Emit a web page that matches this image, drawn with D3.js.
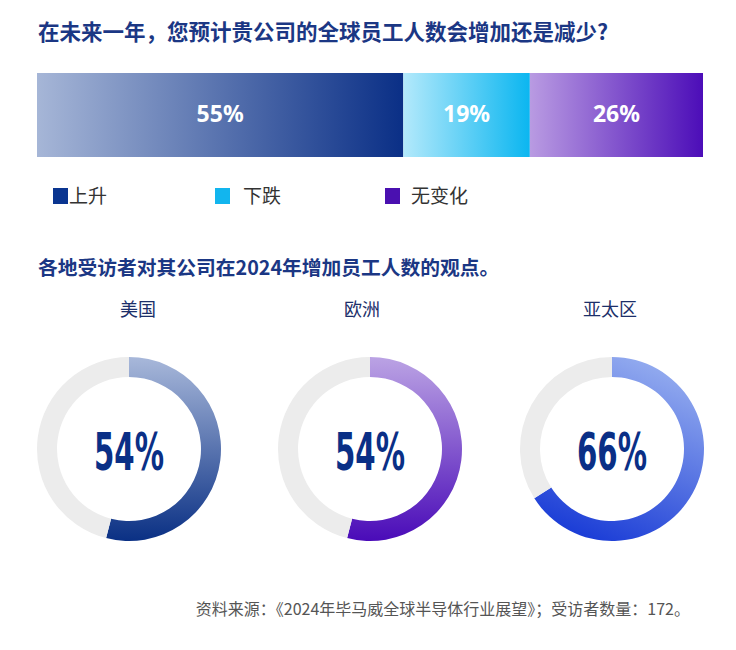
<!DOCTYPE html>
<html><head><meta charset="utf-8">
<script src="https://cdn.jsdelivr.net/npm/d3@7/dist/d3.min.js"></script>
<style>body{margin:0;background:#fff}svg{display:block}</style>
</head><body>
<script>
const title = "在未来一年，您预计贵公司的全球员工人数会增加还是减少?";
const subtitle = "各地受访者对其公司在2024年增加员工人数的观点。";
const source = "资料来源：《2024年毕马威全球半导体行业展望》；受访者数量：172。";
const barCategories = ["上升", "下跌", "无变化"];
const barValues = [55, 19, 26];
const regions = ["美国", "欧洲", "亚太区"];
const regionValues = [54, 54, 66];

const W = 736, H = 650;
const cjk = "'Noto Sans CJK SC','Noto Sans',sans-serif";
const svg = d3.select("body").append("svg").attr("width", W).attr("height", H);
const defs = svg.append("defs");

const barGrad = [["#a6b6d7", "#0a2f86"], ["#b3e9fb", "#0bb6f0"], ["#b99be2", "#4c0db8"]];
const legendColors = ["#0a3590", "#12b5ee", "#4a10b0"];
barGrad.forEach((g, i) => {
  const lg = defs.append("linearGradient").attr("id", "bg" + i).attr("x1", "0%").attr("x2", "100%").attr("y1", "0%").attr("y2", "0%");
  lg.append("stop").attr("offset", "0%").attr("stop-color", g[0]);
  lg.append("stop").attr("offset", "100%").attr("stop-color", g[1]);
});

svg.append("text").attr("x", 38).attr("y", 40).text(title)
  .attr("font-family", cjk).attr("font-weight", 700).attr("font-size", 21.5).attr("fill", "#1b3784");

const x = d3.scaleLinear().domain([0, 100]).range([37, 703]);
let acc = 0;
const segs = barValues.map((v, i) => { const s = { v, i, x0: acc, x1: acc + v }; acc += v; return s; });
const barG = svg.append("g");
barG.selectAll("rect").data(segs).join("rect")
  .attr("x", d => x(d.x0)).attr("width", d => x(d.x1) - x(d.x0))
  .attr("y", 73).attr("height", 84).attr("fill", d => `url(#bg${d.i})`);
barG.selectAll("text").data(segs).join("text")
  .attr("x", d => (x(d.x0) + x(d.x1)) / 2).attr("y", 122)
  .attr("text-anchor", "middle").attr("fill", "#fff")
  .attr("font-family", "'Noto Sans',sans-serif").attr("font-weight", 700).attr("font-size", 23)
  .text(d => d.v + "%");

const legX = [53, 215, 385], legTX = [69, 243, 411];
const lg = svg.append("g");
barCategories.forEach((c, i) => {
  lg.append("rect").attr("x", legX[i]).attr("y", 188).attr("width", 15).attr("height", 16).attr("fill", legendColors[i]);
  lg.append("text").attr("x", legTX[i]).attr("y", 203).text(c)
    .attr("font-family", cjk).attr("font-size", 19).attr("fill", "#333");
});

svg.append("text").attr("x", 38).attr("y", 275).text(subtitle)
  .attr("font-family", cjk).attr("font-weight", 700).attr("font-size", 19.75).attr("fill", "#1b3784");

const cxs = [129, 370, 612], cy = 449, rOut = 92, rIn = 72;
const labelX = [138, 362, 610];
const donutGrad = [
  { c: ["#a8b8da", "#0a3084"], x1: 0, y1: -1, x2: 0, y2: 1 },
  { c: ["#bba3e4", "#4a0bb8"], x1: 0, y1: -1, x2: 0, y2: 1 },
  { c: ["#93abef", "#1a3cd6"], x1: 0.3, y1: -1, x2: -0.5, y2: 0.9 }
];
const pie = d3.pie().sort(null).value(d => d);
const arc = d3.arc().innerRadius(rIn).outerRadius(rOut);
regions.forEach((name, i) => {
  const cx = cxs[i];
  const g = donutGrad[i];
  const gr = defs.append("linearGradient").attr("id", "dg" + i).attr("gradientUnits", "userSpaceOnUse")
    .attr("x1", g.x1 * rOut).attr("y1", g.y1 * rOut).attr("x2", g.x2 * rOut).attr("y2", g.y2 * rOut);
  gr.append("stop").attr("offset", "0%").attr("stop-color", g.c[0]);
  gr.append("stop").attr("offset", "100%").attr("stop-color", g.c[1]);
  const dg = svg.append("g").attr("transform", `translate(${cx},${cy})`);
  dg.selectAll("path").data(pie([regionValues[i], 100 - regionValues[i]])).join("path")
    .attr("d", arc).attr("fill", (d, j) => j === 0 ? `url(#dg${i})` : "#ececec");
  dg.append("text").attr("x", 0).attr("y", 21).attr("text-anchor", "middle")
    .attr("font-family", "'Liberation Sans Narrow','DejaVu Sans Condensed',sans-serif").attr("font-weight", 700)
    .attr("font-size", 51).attr("fill", "#0a2f86")
    .attr("textLength", 70).attr("lengthAdjust", "spacingAndGlyphs")
    .text(regionValues[i] + "%");
  svg.append("text").attr("x", labelX[i]).attr("y", 316).attr("text-anchor", "middle").text(name)
    .attr("font-family", cjk).attr("font-size", 18).attr("fill", "#1c2f6a");
});

svg.append("text").attr("x", 690).attr("y", 615).attr("text-anchor", "end").text(source)
  .attr("font-family", cjk).attr("font-size", 16).attr("fill", "#555");
</script>
</body></html>
